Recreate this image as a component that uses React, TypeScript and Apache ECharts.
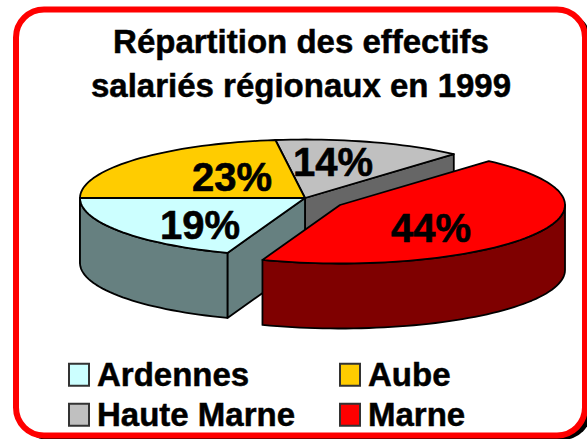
import React, { useEffect, useRef } from "react";
import * as echarts from "echarts";

const regions = ["Ardennes", "Marne", "Haute Marne", "Aube"];
const shares = [19.4, 44.1, 13.6, 22.9];
const colours = ["#CCFFFF", "#FF0000", "#C0C0C0", "#FFCC00"];
const sideColours = ["#668080", "#7F0000", "#666666", "#806600"];
const drawOrder = ["Haute Marne", "Aube", "Ardennes", "Marne"];

const FONT = '"Liberation Sans", Arial, sans-serif';
const CX = 305, CY = 198, RX = 225, RY = 58.5, DEPTH = 65;
const EXPLODED: Record<string, [number, number]> = { Marne: [35, 7] };
const LABEL_AT: Record<string, [number, number]> = {
  Ardennes: [200, 225],
  Marne: [431, 228],
  "Haute Marne": [333, 162],
  Aube: [232, 177],
};

const total = shares.reduce((a, b) => a + b, 0);
function sweep(index: number): [number, number] {
  const before = shares.slice(0, index).reduce((a, b) => a + b, 0);
  const end = 180 - (before / total) * 360;
  const start = end - (shares[index] / total) * 360;
  return [start, end];
}

function makeRenderItem(name: string) {
  const index = regions.indexOf(name);
  const [t1, t2] = sweep(index);
  const [ox, oy] = EXPLODED[name] || [0, 0];
  const cx = CX + ox, cy = CY + oy;
  const at = (t: number, dz = 0): number[] => [
    cx + RX * Math.cos((t * Math.PI) / 180),
    cy + RY * Math.sin((t * Math.PI) / 180) + dz,
  ];
  const arc = (a: number, b: number, dz = 0) => {
    const pts: number[][] = [];
    const n = Math.max(2, Math.ceil(Math.abs(b - a) / 2));
    for (let i = 0; i <= n; i++) pts.push(at(a + ((b - a) * i) / n, dz));
    return pts;
  };
  const edge = { stroke: "#000", lineWidth: 1.8, lineJoin: "round" };
  return () => {
    const children: any[] = [];
    const side = sideColours[index];
    const radial = (t: number) => {
      const p = at(t);
      children.push({
        type: "polygon",
        shape: { points: [[cx, cy], p, [p[0], p[1] + DEPTH], [cx, cy + DEPTH]] },
        style: { fill: side, ...edge },
      });
    };
    if (Math.sin(((t1 - 90) * Math.PI) / 180) > 0) radial(t1);
    if (Math.sin(((t2 + 90) * Math.PI) / 180) > 0) radial(t2);
    const a = Math.max(t1, 0), b = Math.min(t2, 180);
    if (b > a) {
      children.push({
        type: "polygon",
        shape: { points: [...arc(a, b), ...arc(b, a, DEPTH)] },
        style: { fill: side, ...edge },
      });
    }
    children.push({
      type: "polygon",
      shape: { points: [[cx, cy], ...arc(t1, t2)] },
      style: { fill: colours[index], ...edge },
    });
    return { type: "group", children };
  };
}

const labelFor = (name: string) => {
  const [x, y] = LABEL_AT[name];
  return {
    type: "text",
    z: 50,
    style: {
      text: Math.round(shares[regions.indexOf(name)]) + "%",
      x, y,
      fill: "#000",
      stroke: "#000",
      lineWidth: 0.6,
      font: `bold 40px ${FONT}`,
      textAlign: "center",
      textVerticalAlign: "middle",
    },
  };
};

const legendAt = (name: string, left: number, top: number) => ({
  data: [name],
  left,
  top,
  icon: "rect",
  itemWidth: 20,
  itemHeight: 22,
  itemGap: 10,
  selectedMode: false,
  padding: 0,
  itemStyle: { borderColor: "#333", borderWidth: 2 },
  textStyle: {
    fontFamily: FONT,
    fontWeight: "bold",
    fontSize: 33,
    color: "#000",
    textBorderColor: "#000",
    textBorderWidth: 0.5,
    padding: [0, 0, 6, 3],
  },
});

export default function App() {
  const ref = useRef<HTMLDivElement>(null);
  useEffect(() => {
    const chart = echarts.init(ref.current!, undefined, { renderer: "svg" });
    chart.setOption({
      animation: false,
      backgroundColor: "#fff",
      title: {
        text: "Répartition des effectifs\nsalariés régionaux en 1999",
        left: 301,
        top: 19,
        textAlign: "center",
        padding: 0,
        textStyle: {
          fontFamily: FONT,
          fontWeight: "bold",
          fontSize: 33,
          color: "#000",
          lineHeight: 44,
          textBorderColor: "#000",
          textBorderWidth: 0.5,
        },
      },
      legend: [
        legendAt("Ardennes", 68, 358),
        legendAt("Aube", 339, 358),
        legendAt("Haute Marne", 68, 398),
        legendAt("Marne", 339, 398),
      ],
      graphic: [
        { type: "rect", z: -2, shape: { x: 19, y: 12, width: 573, height: 428, r: 30 }, style: { fill: "#000" } },
        { type: "rect", z: -1, shape: { x: 16, y: 9.5, width: 569, height: 426, r: 28 }, style: { fill: "#fff", stroke: "#FF0000", lineWidth: 6 } },
        ...drawOrder.map(labelFor),
      ],
      series: drawOrder.map((name) => ({
        type: "custom",
        name,
        coordinateSystem: "none",
        silent: true,
        itemStyle: { color: colours[regions.indexOf(name)] },
        data: [shares[regions.indexOf(name)]],
        renderItem: makeRenderItem(name),
      })),
    });
    return () => chart.dispose();
  }, []);
  return <div ref={ref} style={{ position: "absolute", left: 0, top: 0, width: 587, height: 439 }} />;
}
